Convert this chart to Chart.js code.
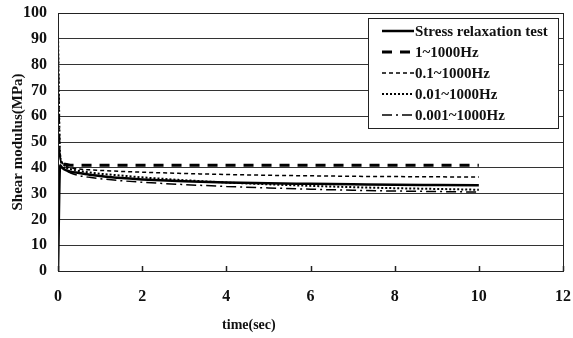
<!DOCTYPE html>
<html>
<head>
<meta charset="utf-8">
<script src="https://cdn.jsdelivr.net/npm/chart.js@4.4.0/dist/chart.umd.min.js"></script>
<style>
  html, body { margin: 0; padding: 0; background: #fff; }
  #wrap { width: 573px; height: 338px; }
</style>
</head>
<body>
<div id="wrap"><canvas id="chart"></canvas></div>
<script>
// time points (sec)
var timeSec = [0, 0.05, 0.1, 0.2, 0.3, 0.5, 0.75, 1, 1.5, 2, 3, 4, 5, 6, 7, 8, 9, 10];

// shear modulus (MPa)
var stressTest = [0, 41, 40, 39, 38.5, 38, 37.3, 36.8, 36, 35.5, 34.8, 34.3, 34, 33.8, 33.6, 33.4, 33.3, 33.2];
var range1 = [48, 44, 42, 41.3, 41, 41, 41, 41, 41, 41, 41, 41, 41, 41, 41, 41, 41, 41];
var range01 = [48, 44, 42, 40.5, 40, 39.5, 39.2, 39, 38.6, 38.3, 37.8, 37.4, 37.1, 36.9, 36.7, 36.6, 36.5, 36.4];
var range001 = [92, 45, 42, 40, 39.5, 38.8, 38.2, 37.7, 37, 36.3, 35.2, 34.3, 33.6, 33, 32.5, 32.1, 31.8, 31.5];
var range0001 = [92, 45, 41, 39, 38, 37, 36.3, 35.8, 35, 34.4, 33.5, 32.8, 32.2, 31.7, 31.3, 31, 30.8, 30.6];

var seriesNames = ['Stress relaxation test', '1~1000Hz', '0.1~1000Hz', '0.01~1000Hz', '0.001~1000Hz'];
var xTicks = [0, 2, 4, 6, 8, 10, 12];

var fontFam = '"Liberation Serif", "Times New Roman", serif';

function pts(vals) {
    return vals.map(function (v, i) { return { x: timeSec[i], y: v }; });
}

var styles = [
    { width: 2.5, dash: [] },
    { width: 3, dash: [10, 8] },
    { width: 1.5, dash: [4, 3] },
    { width: 2, dash: [2, 2] },
    { width: 1.5, dash: [10, 4, 2, 4] }
];
var allSeries = [stressTest, range1, range01, range001, range0001];

var datasets = allSeries.map(function (vals, i) {
    return {
        label: seriesNames[i],
        data: pts(vals),
        borderColor: '#000',
        borderWidth: styles[i].width,
        borderDash: styles[i].dash,
        pointRadius: 0,
        fill: false,
        tension: 0.3,
        cubicInterpolationMode: 'monotone'
    };
});

// frame, inner ticks, x title and legend box
var decor = {
    id: 'decor',
    afterDraw: function (chart) {
        var ctx = chart.ctx;
        var a = chart.chartArea;
        var xs = chart.scales.x;
        ctx.save();
        ctx.strokeStyle = '#222';
        ctx.lineWidth = 1;
        ctx.strokeRect(a.left + 0.5, a.top + 0.5, a.right - a.left, a.bottom - a.top);
        ctx.lineWidth = 1.5;
        xTicks.forEach(function (t) {
            var px = Math.round(xs.getPixelForValue(t)) + 0.5;
            ctx.beginPath();
            ctx.moveTo(px, a.bottom);
            ctx.lineTo(px, a.bottom - 5);
            ctx.stroke();
        });

        ctx.fillStyle = '#111';
        ctx.font = 'bold 14px ' + fontFam;
        ctx.textAlign = 'center';
        ctx.textBaseline = 'middle';
        ctx.fillText('time(sec)', a.left + (a.right - a.left) * 0.378, 325);

        // legend
        var bx = 368, by = 18, bw = 190, bh = 110;
        ctx.fillStyle = '#fff';
        ctx.fillRect(bx, by, bw, bh);
        ctx.strokeStyle = '#222';
        ctx.lineWidth = 1;
        ctx.strokeRect(bx + 0.5, by + 0.5, bw, bh);
        ctx.font = 'bold 15px ' + fontFam;
        ctx.textAlign = 'left';
        chart.data.datasets.forEach(function (ds, i) {
            var y = by + 13 + i * 21;
            ctx.strokeStyle = '#000';
            ctx.lineWidth = ds.borderWidth;
            ctx.setLineDash(ds.borderDash);
            ctx.beginPath();
            ctx.moveTo(bx + 14, y);
            ctx.lineTo(bx + 46, y);
            ctx.stroke();
            ctx.setLineDash([]);
            ctx.fillStyle = '#111';
            ctx.fillText(ds.label, bx + 47, y + 1);
        });
        ctx.restore();
    }
};

new Chart(document.getElementById('chart'), {
    type: 'line',
    data: { datasets: datasets },
    plugins: [decor],
    options: {
        responsive: true,
        maintainAspectRatio: false,
        animation: false,
        layout: { padding: { left: 0, right: 10, top: 13, bottom: 0 } },
        plugins: {
            legend: { display: false },
            tooltip: { enabled: false }
        },
        scales: {
            x: {
                type: 'linear',
                min: 0,
                max: 12,
                afterFit: function (s) { s.height = 67; s.paddingLeft = 0; s.paddingRight = 0; },
                afterBuildTicks: function (s) {
                    s.ticks = xTicks.map(function (v) { return { value: v }; });
                },
                grid: { display: false },
                border: { display: false },
                ticks: {
                    color: '#111',
                    padding: 8,
                    maxRotation: 0,
                    font: { family: fontFam, size: 16, weight: 'bold' }
                }
            },
            y: {
                min: 0,
                max: 100,
                afterFit: function (s) { s.width = 58; s.paddingTop = 0; s.paddingBottom = 0; },
                grid: { color: '#333', lineWidth: 1, drawTicks: false },
                border: { display: false },
                ticks: {
                    stepSize: 10,
                    color: '#111',
                    padding: 11,
                    font: { family: fontFam, size: 16, weight: 'bold' }
                },
                title: {
                    display: true,
                    text: 'Shear modulus(MPa)',
                    color: '#111',
                    padding: { top: 9, bottom: 0 },
                    font: { family: fontFam, size: 15, weight: 'bold' }
                }
            }
        }
    }
});
</script>
</body>
</html>
